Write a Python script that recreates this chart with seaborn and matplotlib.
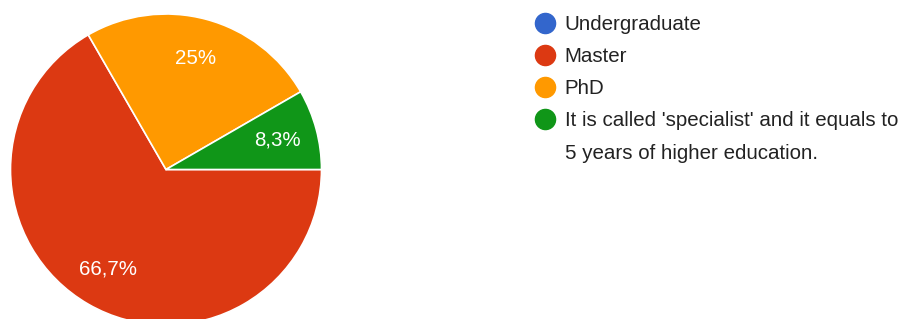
import numpy as np
import matplotlib
matplotlib.use("Agg")
import matplotlib.pyplot as plt
from matplotlib.lines import Line2D
import seaborn as sns

# 데이터
categories = ["Undergraduate", "Master", "PhD",
              "It is called 'specialist' and it equals to"]
extra_line = "5 years of higher education."
counts = [0, 8, 3, 1]
colors = ["#3366cc", "#dc3912", "#ff9900", "#109618"]

sns.set_style("white")
plt.rcParams['font.family'] = ['Liberation Sans', 'DejaVu Sans']


def 퍼센트(p):
    if p < 0.05:
        return ""
    s = f"{p:.1f}"
    if s.endswith(".0"):
        s = s[:-2]
    return s.replace(".", ",") + "%"


fig = plt.figure(figsize=(9.07, 3.19), dpi=100)
W, H = 907, 319
cx, cy, r = 166, 169.5, 155.5
ax = fig.add_axes([(cx - r) / W, (H - cy - r) / H, 2 * r / W, 2 * r / H])

wedges, texts, autotexts = ax.pie(
    counts, colors=colors, startangle=0, counterclock=False,
    autopct=퍼센트, pctdistance=0.74,
    wedgeprops=dict(edgecolor="white", linewidth=1.2),
    textprops=dict(color="white", fontsize=14.8))
ax.set_xlim(-1, 1)
ax.set_ylim(-1, 1)
ax.set_aspect("equal")

# 범례
handles = [Line2D([], [], marker="o", linestyle="", markersize=14.5,
                  markerfacecolor=c, markeredgecolor=c) for c in colors]
handles.append(Line2D([], [], linestyle="", marker=""))
labels = categories + [extra_line]
fig.legend(handles, labels, loc="upper left",
           bbox_to_anchor=(535 / W, 1 - 15 / H),
           frameon=False, borderpad=0, borderaxespad=0,
           handlelength=1.0, handletextpad=0.45, labelspacing=0.64,
           fontsize=14.8, labelcolor="#222222")

fig.savefig("out.png", dpi=100)
